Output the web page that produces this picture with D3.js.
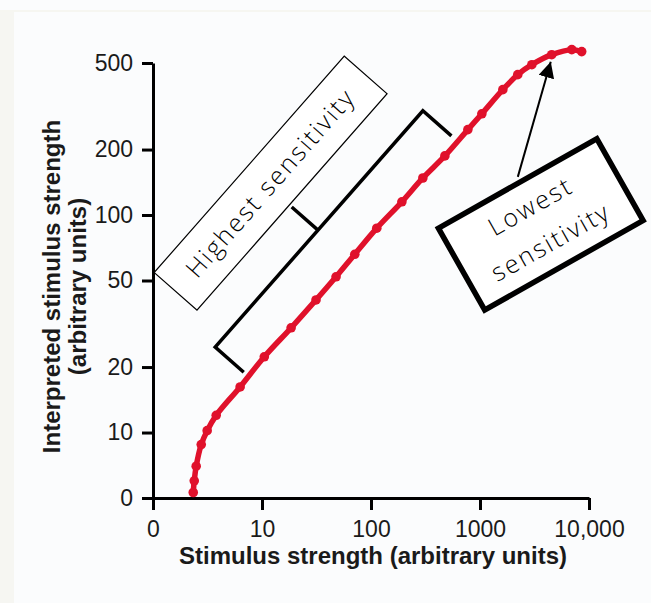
<!DOCTYPE html>
<html>
<head>
<meta charset="utf-8">
<script src="https://cdn.jsdelivr.net/npm/d3@7"></script>
<style>
  body { margin: 0; background: #fbfcfd; }
  .tick text { font-family: "Liberation Sans", Arial, sans-serif; font-size: 23px; fill: #1a1a1a; }
  .axis-title { font-family: "Liberation Sans", Arial, sans-serif; font-size: 24px; font-weight: bold; fill: #1a1a1a; }
  .note { font-family: "Open Sans", sans-serif; font-weight: 300; font-size: 25px; letter-spacing: 2.2px; fill: #000; }
</style>
</head>
<body>
<div id="wrapper"></div>
<script>
// data (stimulus vs interpreted strength)
const stimulus = [2.34, 2.39, 2.49, 2.77, 3.14, 3.8, 6.3, 10.5, 18.5, 31.3, 47.8, 71, 113, 192, 299, 476, 774, 1040, 1620, 2220, 2990, 4550, 6950, 8570];
const interpreted = [5.3, 6.0, 7.0, 8.8, 10.2, 12.0, 16.2, 22.3, 30.3, 40.7, 52, 66, 87, 115, 148, 187, 247, 292, 377, 442, 491, 546, 576, 564];

// tick values (the lowest one of each axis is labelled "0")
const xTickValues = [1, 10, 100, 1000, 10000];
const xTickLabels = ["0", "10", "100", "1000", "10,000"];
const yTickValues = [5, 10, 20, 50, 100, 200, 500];
const yTickLabels = ["0", "10", "20", "50", "100", "200", "500"];

// annotation anchors, in data units
const bracketFrom = [3.72, 24.7];
const bracketTo = [299, 301.6];
const highBoxCenter = [11.9, 140.6];
const lowBoxCenter = [3610, 90.6];
const arrowFrom = [2223, 149.8];
const arrowTo = [4457, 507];

const dataset = stimulus.map((d, i) => ({ x: d, y: interpreted[i] }));
const xAccessor = (d) => d.x;
const yAccessor = (d) => d.y;

let dimensions = {
  width: 651,
  height: 603,
  margin: { top: 63, right: 62, bottom: 105, left: 153 },
};
dimensions.boundedWidth = dimensions.width - dimensions.margin.left - dimensions.margin.right;
dimensions.boundedHeight = dimensions.height - dimensions.margin.top - dimensions.margin.bottom;

const wrapper = d3.select("#wrapper")
  .append("svg")
  .attr("width", dimensions.width)
  .attr("height", dimensions.height);

// faint page frame
wrapper.append("rect").attr("x", 0).attr("y", 0).attr("width", 651).attr("height", 603).attr("fill", "#fbfcfd");
wrapper.append("rect").attr("x", 0).attr("y", 10).attr("width", 14).attr("height", 593).attr("fill", "#f6f6f2");
wrapper.append("rect").attr("x", 0).attr("y", 10).attr("width", 651).attr("height", 2).attr("fill", "#f6f6f1");

const bounds = wrapper.append("g")
  .attr("transform", `translate(${dimensions.margin.left},${dimensions.margin.top})`);

const xScale = d3.scaleLog()
  .domain([xTickValues[0], xTickValues[xTickValues.length - 1]])
  .range([0, dimensions.boundedWidth]);

const yScale = d3.scaleLog()
  .domain([yTickValues[0], yTickValues[yTickValues.length - 1]])
  .range([dimensions.boundedHeight, 0]);

const px = (p) => [xScale(p[0]), yScale(p[1])];

// axes
const xAxis = bounds.append("g")
  .attr("transform", `translate(0,${dimensions.boundedHeight})`)
  .call(d3.axisBottom(xScale)
    .tickValues(xTickValues)
    .tickFormat((d, i) => xTickLabels[i])
    .tickSize(12).tickSizeOuter(0).tickPadding(11));

const yAxis = bounds.append("g")
  .call(d3.axisLeft(yScale)
    .tickValues(yTickValues)
    .tickFormat((d, i) => yTickLabels[i])
    .tickSize(11).tickSizeOuter(0).tickPadding(9));

bounds.selectAll(".domain, .tick line")
  .attr("stroke", "#000")
  .attr("stroke-width", 3);

xAxis.append("text")
  .attr("class", "axis-title")
  .attr("x", dimensions.boundedWidth / 2 + 2)
  .attr("y", 66)
  .attr("text-anchor", "middle")
  .text("Stimulus strength (arbitrary units)");

const yTitle = yAxis.append("g")
  .attr("transform", `translate(${-93},${dimensions.boundedHeight / 2 + 6}) rotate(-90)`);
yTitle.append("text").attr("class", "axis-title").attr("text-anchor", "middle")
  .text("Interpreted stimulus strength");
yTitle.append("text").attr("class", "axis-title").attr("text-anchor", "middle").attr("y", 26)
  .text("(arbitrary units)");

// annotations
const [bx0, by0] = px(bracketFrom);
const [bx1, by1] = px(bracketTo);
const len = Math.hypot(bx1 - bx0, by1 - by0);
const ux = (bx1 - bx0) / len, uy = (by1 - by0) / len;
const nx = -uy, ny = ux; // perpendicular, pointing down-right
const tickLen = 38;
const mid = 0.495;
bounds.append("path")
  .attr("d", `M${bx0 + nx * tickLen},${by0 + ny * tickLen}L${bx0},${by0}L${bx1},${by1}L${bx1 + nx * tickLen},${by1 + ny * tickLen}` +
    `M${bx0 + ux * len * mid},${by0 + uy * len * mid}l${-nx * 35},${-ny * 35}`)
  .attr("fill", "none")
  .attr("stroke", "#000")
  .attr("stroke-width", 3.5);

const angleHigh = Math.atan2(uy, ux) * 180 / Math.PI;
const [hx, hy] = px(highBoxCenter);
const highBox = bounds.append("g").attr("transform", `translate(${hx},${hy}) rotate(${angleHigh})`);
highBox.append("rect")
  .attr("x", -144).attr("y", -28).attr("width", 288).attr("height", 57)
  .attr("fill", "#fff").attr("stroke", "#000").attr("stroke-width", 1.2);
highBox.append("text").attr("class", "note")
  .attr("text-anchor", "middle").attr("y", 9)
  .text("Highest sensitivity");

// red curve
const lineGenerator = d3.line()
  .x((d) => xScale(xAccessor(d)))
  .y((d) => yScale(yAccessor(d)))
  .curve(d3.curveCatmullRom);

bounds.append("path")
  .datum(dataset)
  .attr("d", lineGenerator)
  .attr("fill", "none")
  .attr("stroke", "#e0112b")
  .attr("stroke-width", 5.5);

bounds.selectAll("circle")
  .data(dataset)
  .join("circle")
  .attr("cx", (d) => xScale(xAccessor(d)))
  .attr("cy", (d) => yScale(yAccessor(d)))
  .attr("r", 4.8)
  .attr("fill", "#e0112b");

// arrow to the flat top of the curve
wrapper.append("defs").append("marker")
  .attr("id", "head")
  .attr("viewBox", "0 0 10 10")
  .attr("refX", 10).attr("refY", 5)
  .attr("markerWidth", 8).attr("markerHeight", 8)
  .attr("markerUnits", "strokeWidth")
  .attr("orient", "auto")
  .append("path").attr("d", "M0,0L10,5L0,10Z").attr("fill", "#000");

const [ax0, ay0] = px(arrowFrom);
const [ax1, ay1] = px(arrowTo);
bounds.append("line")
  .attr("x1", ax0).attr("y1", ay0).attr("x2", ax1).attr("y2", ay1)
  .attr("stroke", "#000").attr("stroke-width", 2)
  .attr("marker-end", "url(#head)");

const [lx, ly] = px(lowBoxCenter);
const lowBox = bounds.append("g").attr("transform", `translate(${lx},${ly}) rotate(-29.5)`);
lowBox.append("rect")
  .attr("x", -91).attr("y", -47).attr("width", 182).attr("height", 94)
  .attr("fill", "#fff").attr("stroke", "#000").attr("stroke-width", 5.5);
lowBox.append("text").attr("class", "note")
  .attr("text-anchor", "middle").attr("y", -12)
  .text("Lowest");
lowBox.append("text").attr("class", "note")
  .attr("text-anchor", "middle").attr("y", 29)
  .text("sensitivity");
</script>
</body>
</html>
